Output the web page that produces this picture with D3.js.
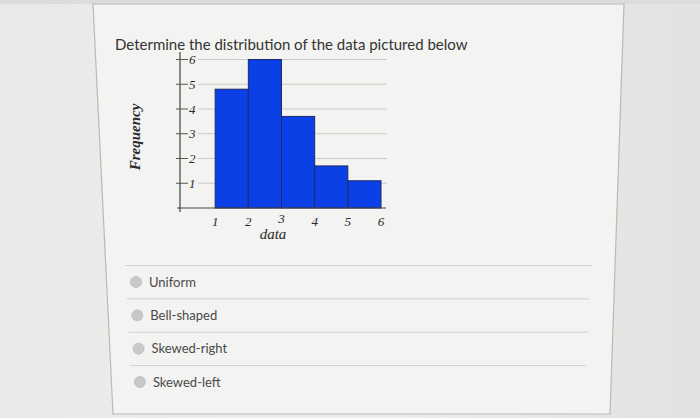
<!DOCTYPE html>
<html>
<head>
<meta charset="utf-8">
<script src="https://cdn.jsdelivr.net/npm/d3@7"></script>
<style>
  body { margin: 0; background: #e4e4e2; }
  svg { display: block; }
</style>
</head>
<body>
<div id="chart"></div>
<script>
// histogram data
var binStarts = [1, 2, 3, 4, 5];
var frequencies = [4.8, 6, 3.7, 1.7, 1.1];
var yTicks = [1, 2, 3, 4, 5, 6];
var xTicks = [1, 2, 3, 4, 5, 6];
var choices = ["Uniform", "Bell-shaped", "Skewed-right", "Skewed-left"];

var W = 700, H = 418;

var svg = d3.select("#chart")
    .append("svg")
    .attr("width", W)
    .attr("height", H);

// photo background
var bg = svg.append("defs").append("linearGradient")
    .attr("id", "bg").attr("x1", 0).attr("x2", 1).attr("y1", 0).attr("y2", 0);
bg.append("stop").attr("offset", 0).attr("stop-color", "#e9e9e7");
bg.append("stop").attr("offset", 0.5).attr("stop-color", "#eeeeec");
bg.append("stop").attr("offset", 1).attr("stop-color", "#e2e2e0");
svg.append("rect").attr("width", W).attr("height", H).attr("fill", "url(#bg)");
svg.append("rect").attr("width", W).attr("height", 4).attr("fill", "#dcdcda");

// the quiz card (slightly skewed by the camera)
svg.append("polygon")
    .attr("points", "93,4 624,4 610,414 113,414")
    .attr("fill", "#f3f3f1")
    .attr("stroke", "#b9b9b7")
    .attr("stroke-width", 1.2);

svg.append("text")
    .attr("x", 115)
    .attr("y", 50)
    .style("font-family", "Lato, sans-serif")
    .style("font-size", "15px")
    .style("fill", "#333")
    .text("Determine the distribution of the data pictured below");

// scales
var x = d3.scaleLinear().domain([0, 6]).range([182, 381]);
var y = d3.scaleLinear().domain([0, 6]).range([208, 59.5]);

var g = svg.append("g");

// grid lines
g.selectAll(".grid")
    .data(yTicks)
    .enter()
    .append("line")
    .attr("x1", 198)
    .attr("x2", 387)
    .attr("y1", function (d) { return y(d); })
    .attr("y2", function (d) { return y(d); })
    .attr("stroke", "#c9c9c7")
    .attr("stroke-width", 1);

// bars
g.selectAll(".bar")
    .data(binStarts)
    .enter()
    .append("rect")
    .attr("x", function (d) { return x(d); })
    .attr("y", function (d, i) { return y(frequencies[i]); })
    .attr("width", function (d) { return x(d + 1) - x(d); })
    .attr("height", function (d, i) { return y(0) - y(frequencies[i]); })
    .attr("fill", "#0b40e6")
    .attr("stroke", "#1c2a66")
    .attr("stroke-width", 1);

// axes
g.append("line")
    .attr("x1", 180).attr("x2", 180)
    .attr("y1", 52).attr("y2", 212)
    .attr("stroke", "#444").attr("stroke-width", 1.2);
g.append("line")
    .attr("x1", 177).attr("x2", 386)
    .attr("y1", y(0)).attr("y2", y(0))
    .attr("stroke", "#444").attr("stroke-width", 1.2);

// y ticks and labels
g.selectAll(".ytick")
    .data(yTicks)
    .enter()
    .append("line")
    .attr("x1", 176).attr("x2", 188)
    .attr("y1", function (d) { return y(d); })
    .attr("y2", function (d) { return y(d); })
    .attr("stroke", "#555").attr("stroke-width", 1);

g.selectAll(".ylab")
    .data(yTicks)
    .enter()
    .append("text")
    .attr("x", 189)
    .attr("y", function (d) { return y(d); })
    .attr("dy", "0.35em")
    .style("font-family", "'Liberation Serif', serif")
    .style("font-style", "italic")
    .style("font-size", "13px")
    .style("fill", "#2a2a2a")
    .text(function (d) { return d; });

// x labels
g.selectAll(".xlab")
    .data(xTicks)
    .enter()
    .append("text")
    .attr("x", function (d) { return x(d); })
    .attr("y", function (d) { return d === 3 ? 223 : 226; })
    .attr("text-anchor", "middle")
    .style("font-family", "'Liberation Serif', serif")
    .style("font-style", "italic")
    .style("font-size", "13px")
    .style("fill", "#2a2a2a")
    .text(function (d) { return d; });

g.append("text")
    .attr("x", 273)
    .attr("y", 239)
    .attr("text-anchor", "middle")
    .style("font-family", "'Liberation Serif', serif")
    .style("font-style", "italic")
    .style("font-size", "15px")
    .style("fill", "#2a2a2a")
    .text("data");

g.append("text")
    .attr("transform", "translate(140,137) rotate(-90)")
    .attr("text-anchor", "middle")
    .style("font-family", "'Liberation Serif', serif")
    .style("font-style", "italic")
    .style("font-weight", "bold")
    .style("font-size", "15px")
    .style("fill", "#2a2a2a")
    .text("Frequency");

// answer choices
var opt = svg.append("g");
var rowY = d3.scaleLinear().domain([0, 3]).range([282, 382]);

opt.selectAll(".sep")
    .data(choices)
    .enter()
    .append("line")
    .attr("x1", function (d, i) { return 125 + i * 1.7; })
    .attr("x2", function (d, i) { return 592 - i * 2; })
    .attr("y1", function (d, i) { return rowY(i) - 16.5; })
    .attr("y2", function (d, i) { return rowY(i) - 16.5; })
    .attr("stroke", "#d2d2d0")
    .attr("stroke-width", 1);

opt.selectAll(".radio")
    .data(choices)
    .enter()
    .append("circle")
    .attr("cx", function (d, i) { return 136 + i * 1.3; })
    .attr("cy", function (d, i) { return rowY(i); })
    .attr("r", 5.5)
    .attr("fill", "#c8c8c6")
    .attr("stroke", "#bdbdbb")
    .attr("stroke-width", 0.8);

opt.selectAll(".choice")
    .data(choices)
    .enter()
    .append("text")
    .attr("x", function (d, i) { return 149 + i * 1.3; })
    .attr("y", function (d, i) { return rowY(i); })
    .attr("dy", "0.35em")
    .style("font-family", "Lato, sans-serif")
    .style("font-size", "13px")
    .style("fill", "#4a4a4a")
    .text(function (d) { return d; });
</script>
</body>
</html>
